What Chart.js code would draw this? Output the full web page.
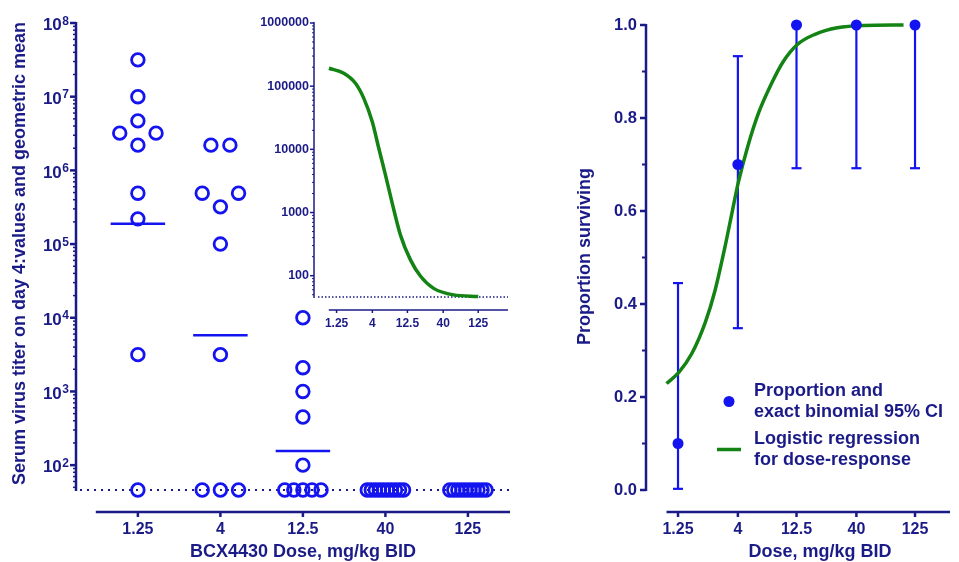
<!DOCTYPE html>
<html>
<head>
<meta charset="utf-8">
<title>BCX4430 dose response</title>
<script src="https://cdn.jsdelivr.net/npm/chart.js@4.4.1/dist/chart.umd.min.js"></script>
<style>
  html, body { margin: 0; padding: 0; background: #fff; }
  #wrap { position: relative; width: 959px; height: 562px; overflow: hidden; }
  #wrap canvas { position: absolute; top: 0; }
</style>
</head>
<body>
<div id="wrap">
  <canvas id="titer" width="540" height="562" style="left:0"></canvas>
  <canvas id="inset" width="290" height="340" style="left:250px"></canvas>
  <canvas id="survival" width="419" height="562" style="left:540px"></canvas>
</div>
<script>
const NAVY = '#1b1b88';
const BLUE = '#1414f0';
const GREEN = '#138313';
const FONT = '"Liberation Sans", Arial, Helvetica, sans-serif';

// dose groups
const doseLabels = ['1.25', '4', '12.5', '40', '125'];
const doseValues = [1.25, 4, 12.5, 40, 125];

// limit of detection of the titer assay
const LOD = 46;

// serum virus titer on day 4, one array per dose group (10 animals each)
const titer1_25 = [3.16e7, 1.0e7, 4.7e6, 3.2e6, 3.2e6, 2.2e6, 4.9e5, 2.2e5, 3.16e3, LOD];
const titer4 = [2.2e6, 2.2e6, 4.9e5, 4.9e5, 3.2e5, 1.0e5, 3.16e3, LOD, LOD, LOD];
const titer12_5 = [1.0e4, 2.1e3, 1.0e3, 4.5e2, 1.0e2, LOD, LOD, LOD, LOD, LOD];
const titer40 = [LOD, LOD, LOD, LOD, LOD, LOD, LOD, LOD, LOD, LOD];
const titer125 = [LOD, LOD, LOD, LOD, LOD, LOD, LOD, LOD, LOD, LOD];
const titerGroups = [titer1_25, titer4, titer12_5, titer40, titer125];

// geometric means (groups at the limit of detection have no bar)
const geoMean = [1.88e5, 5.8e3, 1.56e2, null, null];

// inset: fitted titer vs dose curve
const fitDose = [0.975, 1.58, 2.31, 3.03, 3.98, 4.93, 6.12, 7.61, 9.95, 13.8, 19.3, 29.3, 56, 125];
const fitTiter = [1.92e5, 1.6e5, 1.11e5, 6.4e4, 2.75e4, 1.04e4, 3.94e3, 1.42e3, 443, 178, 97, 63, 49.7, 47];

// survival: proportion with exact binomial 95% CI
const survProp = [0.1, 0.7, 1.0, 1.0, 1.0];
const ciLow = [0.0025, 0.348, 0.692, 0.692, 0.692];
const ciHigh = [0.445, 0.933, 1.0, 1.0, 1.0];

// logistic regression curve
const logitDose = [1.0, 1.27, 1.63, 2.12, 2.56, 3.09, 3.6, 4.03, 4.86, 5.98, 7.65, 9.58, 12.7, 17.9, 27.6, 46, 100];
const logitProp = [0.229, 0.253, 0.293, 0.36, 0.428, 0.519, 0.601, 0.661, 0.74, 0.811, 0.873, 0.92, 0.958, 0.98, 0.994, 0.999, 1.0];

Chart.defaults.font.family = FONT;
Chart.defaults.color = NAVY;
Chart.defaults.animation = false;

// spread coincident values sideways, like a column scatter
function swarm(values) {
  const lg = values.map(v => Math.log10(v));
  const order = lg.map((v, i) => i).sort((a, b) => lg[b] - lg[a]);
  const clusters = [];
  order.forEach(i => {
    const c = clusters[clusters.length - 1];
    if (c && lg[c[c.length - 1]] - lg[i] < 0.12) c.push(i);
    else clusters.push([i]);
  });
  const off = values.map(() => 0);
  clusters.forEach((c, k) => {
    const n = c.length;
    if (n === 1) return;
    let step;
    if (n === 2) {
      const crowded = [clusters[k - 1], clusters[k + 1]].some(o =>
        o && o.length === 1 && Math.abs(lg[o[0]] - lg[c[0]]) < 0.25);
      step = crowded ? 0.44 : 0.23;
    } else {
      step = 0.44 / (n - 1);
    }
    c.forEach((i, j) => { off[i] = (j - (n - 1) / 2) * step; });
  });
  return off;
}

function seg(ctx, x1, y1, x2, y2) {
  ctx.beginPath();
  ctx.moveTo(x1, y1);
  ctx.lineTo(x2, y2);
  ctx.stroke();
}

function logMinors(lo, hi) {
  const out = [];
  for (let k = 0; k <= 8; k++) {
    for (let m = 2; m <= 9; m++) {
      const v = m * Math.pow(10, k);
      if (v >= lo && v <= hi) out.push(v);
    }
  }
  return out;
}

// Prism-style offset axes, LOD line, error bars and titles
const axesPlugin = {
  id: 'axes',
  beforeDatasetsDraw(chart, args, o) {
    const ctx = chart.ctx, a = chart.chartArea;
    const xs = chart.scales.x, ys = chart.scales.y;
    ctx.save();
    ctx.strokeStyle = NAVY;

    // limit of detection
    if (o.lod) {
      const y = ys.getPixelForValue(o.lod);
      ctx.lineWidth = o.lodWidth;
      ctx.setLineDash(o.lodDash);
      seg(ctx, a.left + 4, y, a.right, y);
      ctx.setLineDash([]);
    }

    // vertical axis
    ctx.lineWidth = o.width;
    seg(ctx, a.left, a.top - 1, a.left, a.bottom + 1);
    o.yMajor.forEach(v => {
      const y = ys.getPixelForValue(v);
      seg(ctx, a.left - o.majorLen, y, a.left, y);
    });
    ctx.lineWidth = o.minorWidth;
    o.yMinor.forEach(v => {
      const y = ys.getPixelForValue(v);
      seg(ctx, a.left - o.minorLen, y, a.left, y);
    });

    // horizontal axis, set below the plotting area
    const by = a.bottom + o.gap;
    ctx.lineWidth = o.width;
    seg(ctx, xs.getPixelForValue(o.xFrom), by, o.xTo == null ? a.right : xs.getPixelForValue(o.xTo), by);
    o.xTicks.forEach(v => {
      const x = xs.getPixelForValue(v);
      seg(ctx, x, by, x, by + o.xTickLen);
    });

    // error bars
    if (o.errors) {
      ctx.strokeStyle = BLUE;
      ctx.lineWidth = 2.2;
      o.errors.x.forEach((d, i) => {
        const x = xs.getPixelForValue(d);
        const y1 = ys.getPixelForValue(o.errors.lo[i]);
        const y2 = ys.getPixelForValue(o.errors.hi[i]);
        seg(ctx, x, y1, x, y2);
        seg(ctx, x - 5, y1, x + 5, y1);
        seg(ctx, x - 5, y2, x + 5, y2);
      });
    }
    ctx.restore();
  },
  afterDraw(chart, args, o) {
    const ctx = chart.ctx, a = chart.chartArea;
    const ys = chart.scales.y;
    ctx.save();
    ctx.fillStyle = NAVY;

    // 10^n labels with real superscripts
    if (o.powers) {
      const right = a.left - 7;
      o.powers.forEach(p => {
        const y = ys.getPixelForValue(Math.pow(10, p));
        ctx.textAlign = 'right';
        ctx.textBaseline = 'alphabetic';
        ctx.font = 'bold 12px ' + FONT;
        ctx.fillText(String(p), right, y + 1.5);
        const w = ctx.measureText(String(p)).width;
        ctx.font = 'bold 17px ' + FONT;
        ctx.fillText('10', right - w - 0.5, y + 7.3);
      });
    }

    ctx.textAlign = 'center';
    ctx.textBaseline = 'middle';
    ctx.font = 'bold 18px ' + FONT;
    if (o.yTitle) {
      ctx.save();
      ctx.translate(o.yTitle.x, (a.top + a.bottom) / 2 + (o.yTitle.dy || 0));
      ctx.rotate(-Math.PI / 2);
      ctx.fillText(o.yTitle.text, 0, 0);
      ctx.restore();
    }
    if (o.xTitle) {
      ctx.fillText(o.xTitle.text, o.xTitle.x, o.xTitle.y);
    }
    ctx.restore();
  }
};

// two-line legend entries drawn from the dataset labels
const keyPlugin = {
  id: 'keyBox',
  afterDraw(chart, args, o) {
    if (!o.show) return;
    const ctx = chart.ctx;
    ctx.save();
    ctx.font = 'bold 18px ' + FONT;
    ctx.textAlign = 'left';
    ctx.textBaseline = 'middle';
    let y = o.y;
    chart.data.datasets.forEach(ds => {
      if (!ds.label) return;
      const lines = ds.label.split('\n');
      const mid = y + (lines.length - 1) * o.line / 2;
      if (ds.showLine) {
        ctx.strokeStyle = ds.borderColor;
        ctx.lineWidth = ds.borderWidth;
        seg(ctx, o.symbolX - 12, mid, o.symbolX + 12, mid);
      } else {
        ctx.fillStyle = ds.backgroundColor;
        ctx.beginPath();
        ctx.arc(o.symbolX, mid, ds.pointRadius, 0, Math.PI * 2);
        ctx.fill();
      }
      ctx.fillStyle = NAVY;
      lines.forEach((t, i) => ctx.fillText(t, o.x, y + i * o.line));
      y += (lines.length - 1) * o.line + o.gap;
    });
    ctx.restore();
  }
};

const noGrid = { display: false, drawTicks: false };
const noBorder = { display: false };

// ---------- main panel: titers ----------
const pointData = [];
titerGroups.forEach((vals, g) => {
  const off = swarm(vals);
  vals.forEach((v, i) => pointData.push({ x: g + off[i], y: v }));
});

const meanSets = geoMean.map((m, g) => ({
  data: m == null ? [] : [{ x: g - 0.33, y: m }, { x: g + 0.33, y: m }],
  showLine: true,
  borderColor: BLUE,
  borderWidth: 2.5,
  pointRadius: 0,
  clip: false
}));

new Chart(document.getElementById('titer'), {
  type: 'scatter',
  data: {
    datasets: [{
      data: pointData,
      pointRadius: 6.3,
      pointBorderWidth: 2.8,
      borderColor: BLUE,
      backgroundColor: 'rgba(0,0,0,0)',
      pointHoverRadius: 6.3,
      clip: false
    }].concat(meanSets)
  },
  options: {
    responsive: false,
    layout: { padding: { top: 23, right: 30, left: 0, bottom: 0 } },
    plugins: {
      legend: { display: false },
      tooltip: { enabled: false },
      axes: {
        width: 2.5, minorWidth: 1.5, majorLen: 6, minorLen: 3,
        yMajor: [1e2, 1e3, 1e4, 1e5, 1e6, 1e7, 1e8],
        yMinor: logMinors(LOD, 1e8),
        gap: 22, xFrom: -0.51, xTo: null, xTicks: [0, 1, 2, 3, 4], xTickLen: 5,
        lod: LOD, lodWidth: 2, lodDash: [2, 5],
        powers: [2, 3, 4, 5, 6, 7, 8],
        yTitle: { text: 'Serum virus titer on day 4:values and geometric mean', x: 20, dy: -3 },
        xTitle: { text: 'BCX4430 Dose, mg/kg BID', x: 303, y: 552 }
      }
    },
    scales: {
      x: {
        type: 'linear', min: -0.75, max: 4.51,
        grid: noGrid, border: noBorder,
        afterBuildTicks: s => { s.ticks = doseLabels.map((l, i) => ({ value: i })); },
        afterFit: s => { s.height = 72; },
        ticks: {
          autoSkip: false, maxRotation: 0, padding: 30,
          font: { size: 16, weight: 'bold' }, color: NAVY,
          callback: v => doseLabels[v]
        }
      },
      y: {
        type: 'logarithmic', min: LOD, max: 1e8,
        grid: noGrid, border: noBorder,
        afterFit: s => { s.width = 76; },
        ticks: { display: false }
      }
    }
  },
  plugins: [axesPlugin]
});

// ---------- inset: fitted curve ----------
new Chart(document.getElementById('inset'), {
  type: 'scatter',
  data: {
    datasets: [{
      data: fitDose.map((d, i) => ({ x: d, y: fitTiter[i] })),
      showLine: true,
      borderColor: GREEN,
      borderWidth: 3.5,
      pointRadius: 0,
      cubicInterpolationMode: 'monotone',
      clip: false
    }]
  },
  options: {
    responsive: false,
    layout: { padding: { top: 23, right: 32, left: 0, bottom: 0 } },
    plugins: {
      legend: { display: false },
      tooltip: { enabled: false },
      axes: {
        width: 1.5, minorWidth: 1, majorLen: 4, minorLen: 2,
        yMajor: [1e2, 1e3, 1e4, 1e5, 1e6],
        yMinor: logMinors(LOD, 1e6),
        gap: 13, xFrom: 0.97, xTo: null, xTicks: doseValues, xTickLen: 3,
        lod: LOD, lodWidth: 1.5, lodDash: [1.5, 2]
      }
    },
    scales: {
      x: {
        type: 'logarithmic', min: 0.613, max: 329,
        grid: noGrid, border: noBorder,
        afterBuildTicks: s => { s.ticks = doseValues.map(v => ({ value: v })); },
        afterFit: s => { s.height = 43; },
        ticks: {
          autoSkip: false, maxRotation: 0, padding: 19,
          font: { size: 12, weight: 'bold' }, color: NAVY,
          callback: (v, i) => doseLabels[i]
        }
      },
      y: {
        type: 'logarithmic', min: LOD, max: 1e6,
        grid: noGrid, border: noBorder,
        afterBuildTicks: s => { s.ticks = [1e2, 1e3, 1e4, 1e5, 1e6].map(v => ({ value: v })); },
        afterFit: s => { s.width = 64; },
        ticks: {
          autoSkip: false, padding: 5,
          font: { size: 12.5, weight: 'bold' }, color: NAVY,
          callback: v => String(v)
        }
      }
    }
  },
  plugins: [axesPlugin]
});

// ---------- right panel: survival ----------
new Chart(document.getElementById('survival'), {
  type: 'scatter',
  data: {
    datasets: [{
      label: 'Proportion and\nexact binomial 95% CI',
      data: doseValues.map((d, i) => ({ x: d, y: survProp[i] })),
      pointRadius: 5.5,
      pointHoverRadius: 5.5,
      borderWidth: 0,
      backgroundColor: BLUE,
      borderColor: BLUE,
      clip: false
    }, {
      label: 'Logistic regression\nfor dose-response',
      data: logitDose.map((d, i) => ({ x: d, y: logitProp[i] })),
      showLine: true,
      borderColor: GREEN,
      borderWidth: 3.5,
      pointRadius: 0,
      cubicInterpolationMode: 'monotone',
      clip: false
    }]
  },
  options: {
    responsive: false,
    layout: { padding: { top: 25, right: 0, left: 0, bottom: 0 } },
    plugins: {
      legend: { display: false },
      tooltip: { enabled: false },
      axes: {
        width: 2.5, minorWidth: 2, majorLen: 6, minorLen: 4,
        yMajor: [0, 0.2, 0.4, 0.6, 0.8, 1.0],
        yMinor: [0.1, 0.3, 0.5, 0.7, 0.9],
        gap: 22, xFrom: 1.0, xTo: null, xTicks: doseValues, xTickLen: 5,
        errors: { x: doseValues, lo: ciLow, hi: ciHigh },
        yTitle: { text: 'Proportion surviving', x: 45, dy: -1 },
        xTitle: { text: 'Dose, mg/kg BID', x: 280, y: 552 }
      },
      keyBox: { show: true, x: 214, y: 391, line: 21, gap: 27, symbolX: 189 }
    },
    scales: {
      x: {
        type: 'logarithmic', min: 0.671, max: 246.6,
        grid: noGrid, border: noBorder,
        afterBuildTicks: s => { s.ticks = doseValues.map(v => ({ value: v })); },
        afterFit: s => { s.height = 72; },
        ticks: {
          autoSkip: false, maxRotation: 0, padding: 30,
          font: { size: 16, weight: 'bold' }, color: NAVY,
          callback: (v, i) => doseLabels[i]
        }
      },
      y: {
        type: 'linear', min: 0, max: 1,
        grid: noGrid, border: noBorder,
        afterBuildTicks: s => { s.ticks = [0, 0.2, 0.4, 0.6, 0.8, 1.0].map(v => ({ value: v })); },
        afterFit: s => { s.width = 106; },
        ticks: {
          autoSkip: false, padding: 9,
          font: { size: 16.5, weight: 'bold' }, color: NAVY,
          callback: v => v.toFixed(1)
        }
      }
    }
  },
  plugins: [axesPlugin, keyPlugin]
});
</script>
</body>
</html>
